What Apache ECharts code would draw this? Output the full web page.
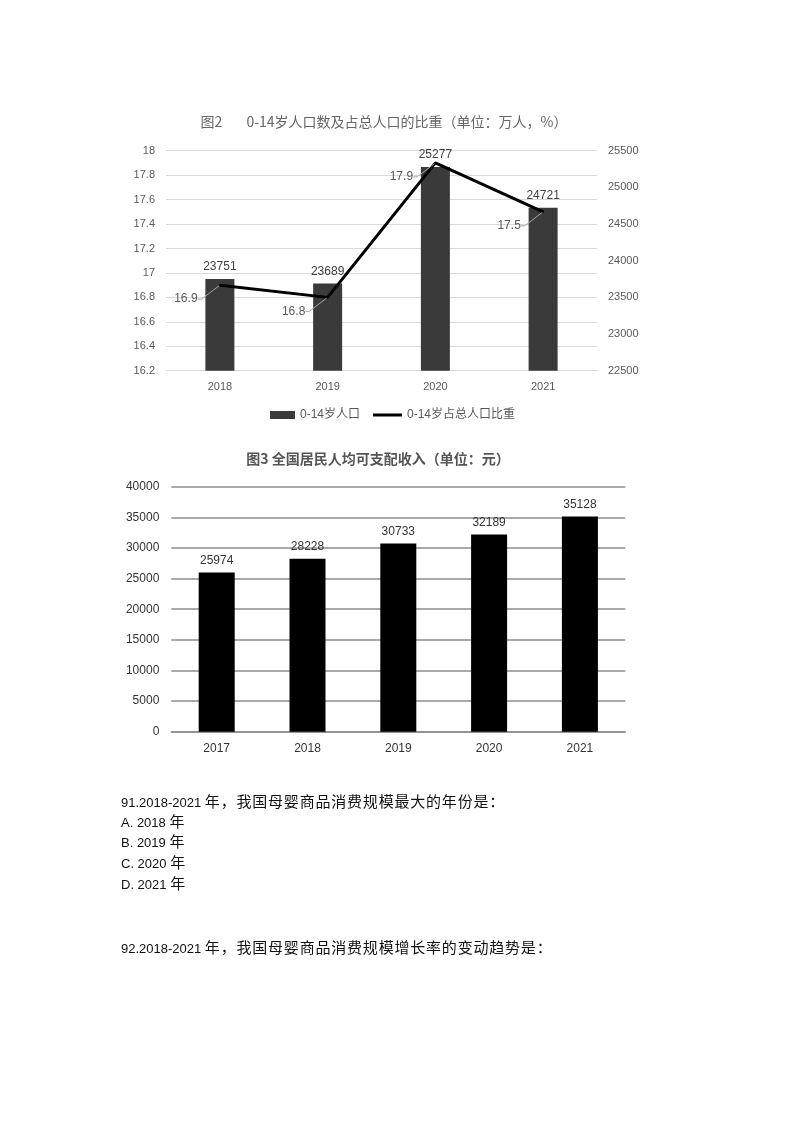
<!DOCTYPE html>
<html>
<head>
<meta charset="utf-8">
<script src="https://cdn.jsdelivr.net/npm/echarts@6/dist/echarts.min.js"></script>
<style>
html, body { margin: 0; padding: 0; background: #fff; }
#page { position: relative; width: 800px; height: 1132px; }
#chart { position: absolute; left: 0; top: 0; width: 800px; height: 1132px; }
.q { position: absolute; left: 121px; font-family: 'Liberation Sans', 'Noto Sans CJK SC', sans-serif; font-size: 13px; color: #111; line-height: 20px; white-space: nowrap; }
.q .c { font-family: 'Noto Sans CJK SC', sans-serif; font-size: 15px; letter-spacing: 0.8px; }
</style>
</head>
<body>
<div id="page">
  <div id="chart"></div>
  <div class="q" style="top:791px">91.2018-2021 <span class="c">年，我国母婴商品消费规模最大的年份是：</span></div>
  <div class="q" style="top:811px">A. 2018 <span class="c">年</span></div>
  <div class="q" style="top:831px">B. 2019 <span class="c">年</span></div>
  <div class="q" style="top:852px">C. 2020 <span class="c">年</span></div>
  <div class="q" style="top:873px">D. 2021 <span class="c">年</span></div>
  <div class="q" style="top:937px">92.2018-2021 <span class="c">年，我国母婴商品消费规模增长率的变动趋势是：</span></div>
</div>
<script>
// Figure 2 data
const years1 = ['2018', '2019', '2020', '2021'];
const pop014 = [23751, 23689, 25277, 24721];      // 万人
const share014 = [16.9, 16.8, 17.9, 17.5];        // %
// Figure 3 data
const years2 = ['2017', '2018', '2019', '2020', '2021'];
const income = [25974, 28228, 30733, 32189, 35128]; // 元

const latin = "'Liberation Sans', 'Noto Sans CJK SC', sans-serif";
const cjk = "'Noto Sans CJK SC', sans-serif";
const plain = v => String(v);

const chart = echarts.init(document.getElementById('chart'), null, { renderer: 'canvas' });
chart.setOption({
  animation: false,
  backgroundColor: '#fff',
  textStyle: { fontFamily: latin },
  title: [
    {
      text: '图2\u2003\u2002 0-14岁人口数及占总人口的比重（单位：万人，%）',
      left: 384, top: 115, padding: 0, textAlign: 'center',
      textStyle: { fontFamily: cjk, fontSize: 14, fontWeight: 'normal', color: '#666' }
    },
    {
      text: '图3 全国居民人均可支配收入（单位：元）',
      left: 378, top: 452, padding: 0, textAlign: 'center',
      textStyle: { fontFamily: cjk, fontSize: 14, fontWeight: 'bold', color: '#555' }
    }
  ],
  legend: [
    {
      data: ['0-14岁人口'], left: 270, top: 409, padding: 0,
      icon: 'rect', itemWidth: 25, itemHeight: 8, itemGap: 5,
      textStyle: { fontFamily: latin, fontSize: 12, color: '#595959' }
    },
    {
      data: ['0-14岁占总人口比重'], left: 373, top: 409, padding: 0,
      icon: 'rect', itemWidth: 29, itemHeight: 3,
      textStyle: { fontFamily: latin, fontSize: 12, color: '#595959' }
    }
  ],
  grid: [
    { left: 166, top: 150.7, width: 431, height: 220 },
    { left: 171.3, top: 486.7, width: 454, height: 245 }
  ],
  xAxis: [
    {
      type: 'category', gridIndex: 0, data: years1,
      axisLine: { lineStyle: { color: '#d9d9d9', width: 1 } },
      axisTick: { show: false },
      axisLabel: { color: '#595959', fontSize: 11, margin: 11 }
    },
    {
      type: 'category', gridIndex: 1, data: years2,
      axisLine: { lineStyle: { color: '#8c8c8c', width: 1.5 } },
      axisTick: { show: false },
      axisLabel: { color: '#333', fontSize: 12, margin: 11 }
    }
  ],
  yAxis: [
    {
      type: 'value', gridIndex: 0, min: 16.2, max: 18, interval: 0.2,
      axisLine: { show: false }, axisTick: { show: false },
      axisLabel: { color: '#595959', fontSize: 11, margin: 11, formatter: v => String(Math.round(v * 10) / 10) },
      splitLine: { lineStyle: { color: '#d9d9d9', width: 1 } }
    },
    {
      type: 'value', gridIndex: 0, position: 'right', min: 22500, max: 25500, interval: 500,
      axisLine: { show: false }, axisTick: { show: false },
      axisLabel: { color: '#595959', fontSize: 11, margin: 11, formatter: plain },
      splitLine: { show: false }
    },
    {
      type: 'value', gridIndex: 1, min: 0, max: 40000, interval: 5000,
      axisLine: { show: false }, axisTick: { show: false },
      axisLabel: { color: '#333', fontSize: 12, margin: 12, formatter: plain },
      splitLine: { lineStyle: { color: '#8c8c8c', width: 1.5 } }
    }
  ],
  series: [
    {
      name: '0-14岁人口', type: 'bar', xAxisIndex: 0, yAxisIndex: 1,
      data: pop014, barWidth: 29,
      itemStyle: { color: '#3a3a3a' },
      label: { show: true, position: 'top', distance: 6, color: '#404040', fontSize: 12 }
    },
    {
      name: '0-14岁占总人口比重', type: 'line', xAxisIndex: 0, yAxisIndex: 0,
      data: share014, symbol: 'circle', symbolSize: 2,
      itemStyle: { color: '#000' },
      lineStyle: { color: '#000', width: 3 },
      label: { show: true, position: 'inside', color: '#595959', fontSize: 12 },
      labelLayout: { dx: -34, dy: 14 },
      labelLine: { show: true, length2: 4, lineStyle: { color: '#a6a6a6', width: 1 } },
      z: 5
    },
    {
      name: '收入', type: 'bar', xAxisIndex: 1, yAxisIndex: 2,
      data: income, barWidth: 36,
      itemStyle: { color: '#000' },
      label: { show: true, position: 'top', distance: 6, color: '#333', fontSize: 12 }
    }
  ]
});
</script>
</body>
</html>
